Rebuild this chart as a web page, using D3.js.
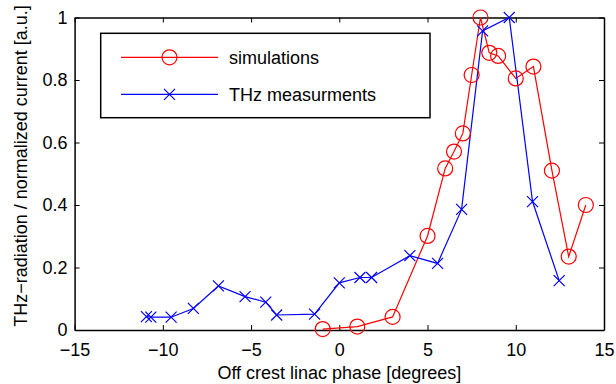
<!DOCTYPE html>
<html>
<head>
<meta charset="utf-8">
<script src="https://cdn.jsdelivr.net/npm/d3@7"></script>
<style>
  body { margin: 0; background: #fff; }
  svg text { font-family: "Liberation Sans", Arial, sans-serif; }
</style>
</head>
<body>
<div id="chart"></div>
<script>
// Simulations (red circles)
const simPhase = [-0.94, 1.02, 3.02, 5.0, 6.0, 6.5, 7.0, 7.5, 8.0, 8.5, 9.0, 10.0, 11.0, 12.05, 13.0, 13.97];
const simValue = [0.003, 0.011, 0.042, 0.301, 0.517, 0.571, 0.629, 0.816, 1.0, 0.887, 0.877, 0.805, 0.843, 0.51, 0.235, 0.4];

// THz measurements (blue crosses)
const thzPhase = [-10.93, -10.68, -9.53, -8.27, -6.85, -5.34, -4.17, -3.55, -1.4, 0.0, 1.17, 1.83, 4.0, 5.57, 6.93, 8.12, 9.63, 10.95, 12.46];
const thzValue = [0.043, 0.041, 0.041, 0.069, 0.141, 0.107, 0.089, 0.048, 0.051, 0.151, 0.168, 0.168, 0.238, 0.213, 0.386, 0.957, 1.0, 0.411, 0.158];

const xTicks = [-15, -10, -5, 0, 5, 10, 15];
const yTicks = [0, 0.2, 0.4, 0.6, 0.8, 1];
const legendLabels = ['simulations', 'THz measurments'];

const width = 616;
const height = 384;
const margin = { top: 17.5, right: 12, bottom: 54, left: 74.6 };
const fontSize = '18px';

const svg = d3.select('#chart')
  .append('svg')
  .attr('width', width)
  .attr('height', height);

const xScale = d3.scaleLinear()
  .domain([-15, 15])
  .range([margin.left, width - margin.right]);
const yScale = d3.scaleLinear()
  .domain([0, 1])
  .range([height - margin.bottom, margin.top]);

const fmt = (d) => String(d).replace('-', '\u2212');

// Axes, MATLAB style: box with inward ticks on all sides
const x0 = xScale.range()[0], x1 = xScale.range()[1];
const y0 = yScale.range()[0], y1 = yScale.range()[1];

svg.append('g')
  .attr('transform', `translate(0,${y0})`)
  .call(d3.axisBottom(xScale).tickValues(xTicks).tickSizeInner(-5).tickSizeOuter(0).tickPadding(13).tickFormat(fmt))
  .call(g => g.selectAll('text').style('font-size', fontSize).attr('fill', '#000'));
svg.append('g')
  .attr('transform', `translate(0,${y1})`)
  .call(d3.axisTop(xScale).tickValues(xTicks).tickSizeInner(-5).tickSizeOuter(0).tickFormat(''));
svg.append('g')
  .attr('transform', `translate(${x0},0)`)
  .call(d3.axisLeft(yScale).tickValues(yTicks).tickSizeInner(-5).tickSizeOuter(0).tickPadding(7).tickFormat(d => String(d)))
  .call(g => g.selectAll('text').style('font-size', fontSize).attr('fill', '#000'));
svg.append('g')
  .attr('transform', `translate(${x1},0)`)
  .call(d3.axisRight(yScale).tickValues(yTicks).tickSizeInner(-5).tickSizeOuter(0).tickFormat(''));

svg.selectAll('.domain').attr('stroke', '#000').attr('stroke-width', 1.5);
svg.selectAll('.tick line').attr('stroke', '#000');

// Lines
const sim = simPhase.map((p, i) => ({ x: p, y: simValue[i] }));
const thz = thzPhase.map((p, i) => ({ x: p, y: thzValue[i] }));

const line = d3.line().x(d => xScale(d.x)).y(d => yScale(d.y));

svg.append('path')
  .datum(sim)
  .attr('fill', 'none')
  .attr('stroke', '#ff0000')
  .attr('stroke-width', 1.2)
  .attr('d', line);

svg.append('path')
  .datum(thz)
  .attr('fill', 'none')
  .attr('stroke', '#0000ff')
  .attr('stroke-width', 1.2)
  .attr('d', line);

const r = 7.5;
svg.selectAll('circle.sim')
  .data(sim)
  .enter()
  .append('circle')
  .attr('class', 'sim')
  .attr('cx', d => xScale(d.x))
  .attr('cy', d => yScale(d.y))
  .attr('r', r)
  .attr('fill', 'none')
  .attr('stroke', '#ff0000')
  .attr('stroke-width', 1.2);

const s = 5.5;
const cross = (x, y) => `M${x - s},${y - s}L${x + s},${y + s}M${x - s},${y + s}L${x + s},${y - s}`;
svg.selectAll('path.thz')
  .data(thz)
  .enter()
  .append('path')
  .attr('class', 'thz')
  .attr('d', d => cross(xScale(d.x), yScale(d.y)))
  .attr('stroke', '#0000ff')
  .attr('stroke-width', 1.2)
  .attr('fill', 'none');

// Legend
const lg = svg.append('g');
lg.append('rect')
  .attr('x', 100.7).attr('y', 33.3)
  .attr('width', 329.3).attr('height', 84.4)
  .attr('fill', '#fff').attr('stroke', '#000').attr('stroke-width', 1.5);

const rows = [
  { label: legendLabels[0], color: '#ff0000', y: 57.3, kind: 'circle' },
  { label: legendLabels[1], color: '#0000ff', y: 94.3, kind: 'cross' }
];
rows.forEach(row => {
  lg.append('line')
    .attr('x1', 121).attr('x2', 218)
    .attr('y1', row.y).attr('y2', row.y)
    .attr('stroke', row.color).attr('stroke-width', 1.2);
  if (row.kind === 'circle') {
    lg.append('circle').attr('cx', 169.5).attr('cy', row.y).attr('r', r)
      .attr('fill', 'none').attr('stroke', row.color).attr('stroke-width', 1.2);
  } else {
    lg.append('path').attr('d', cross(169.5, row.y))
      .attr('fill', 'none').attr('stroke', row.color).attr('stroke-width', 1.2);
  }
  lg.append('text')
    .attr('x', 229).attr('y', row.y)
    .attr('dy', '0.35em')
    .style('font-size', fontSize)
    .text(row.label);
});

// Axis labels
svg.append('text')
  .attr('x', (x0 + x1) / 2)
  .attr('y', 379)
  .attr('text-anchor', 'middle')
  .style('font-size', fontSize)
  .text('Off crest linac phase [degrees]');

svg.append('text')
  .attr('transform', `translate(27,166) rotate(-90)`)
  .attr('text-anchor', 'middle')
  .style('font-size', fontSize)
  .text('THz\u2212radiation / normalized current [a.u.]');
</script>
</body>
</html>
